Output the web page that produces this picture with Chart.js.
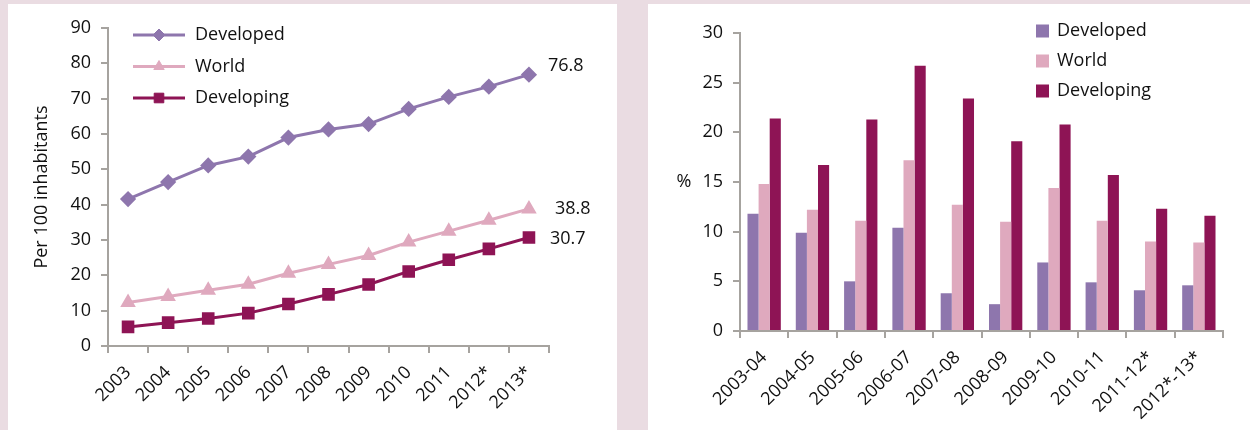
<!DOCTYPE html>
<html>
<head>
<meta charset="utf-8">
<script src="https://cdn.jsdelivr.net/npm/chart.js@4.4.0/dist/chart.umd.min.js"></script>
<style>
  body { margin: 0; width: 1250px; height: 430px; overflow: hidden; position: relative; background: #eadce2; }
  .panel { position: absolute; top: 4px; background: #fff; }
</style>
</head>
<body>
<div class="panel" style="left:8px;width:609px;height:426px"><canvas id="lineChart" width="609" height="426"></canvas></div>
<div class="panel" style="left:648px;width:602px;height:426px"><canvas id="barChart" width="602" height="426"></canvas></div>
<script>
// left chart: per 100 inhabitants
var years = ['2003', '2004', '2005', '2006', '2007', '2008', '2009', '2010', '2011', '2012*', '2013*'];
var developed = [41.6, 46.4, 51.1, 53.6, 59.0, 61.3, 62.8, 67.1, 70.5, 73.4, 76.8];
var world = [12.3, 14.0, 15.8, 17.5, 20.6, 23.1, 25.6, 29.4, 32.5, 35.6, 38.8];
var developing = [5.4, 6.6, 7.8, 9.3, 11.9, 14.6, 17.4, 21.1, 24.4, 27.5, 30.7];
var endLabels = ['76.8', '38.8', '30.7'];

// right chart: growth, %
var periods = ['2003-04', '2004-05', '2005-06', '2006-07', '2007-08', '2008-09', '2009-10', '2010-11', '2011-12*', '2012*-13*'];
var developedGrowth = [11.8, 9.9, 5.0, 10.4, 3.8, 2.7, 6.9, 4.9, 4.1, 4.6];
var worldGrowth = [14.8, 12.2, 11.1, 17.2, 12.7, 11.0, 14.4, 11.1, 9.0, 8.9];
var developingGrowth = [21.4, 16.7, 21.3, 26.7, 23.4, 19.1, 20.8, 15.7, 12.3, 11.6];

var PURPLE = '#8e76ad', PINK = '#dfa9be', PLUM = '#8e1455', AXIS = '#a6a39f';
var FONT = "18px 'Open Sans', sans-serif";

Chart.defaults.font.family = "'Open Sans', sans-serif";
Chart.defaults.font.size = 18;
Chart.defaults.color = '#111';

// legend drawn inside the plot area, like the original
var insideLegend = {
  id: 'insideLegend',
  afterDatasetsDraw: function (chart, args, opts) {
    var ctx = chart.ctx, area = chart.chartArea;
    ctx.save();
    ctx.font = FONT;
    ctx.textBaseline = 'middle';
    chart.data.datasets.forEach(function (ds, i) {
      var x = area.left + opts.dx, y = area.top + opts.dy + i * opts.gap, tx;
      if (opts.line) {
        ctx.strokeStyle = ds.borderColor;
        ctx.lineWidth = ds.borderWidth;
        ctx.beginPath(); ctx.moveTo(x, y); ctx.lineTo(x + 52, y); ctx.stroke();
        ctx.fillStyle = ds.pointBackgroundColor;
        ctx.strokeStyle = ds.pointBorderColor;
        ctx.lineWidth = 1;
        Chart.helpers.drawPoint(ctx, { pointStyle: ds.pointStyle, radius: ds.pointRadius, rotation: 0, borderWidth: 1 }, x + 26, y);
        tx = x + 62;
      } else {
        ctx.fillStyle = ds.backgroundColor;
        ctx.fillRect(x, y - 6.5, 13, 13);
        tx = x + 21;
      }
      ctx.fillStyle = '#111';
      ctx.fillText(ds.label, tx, y);
    });
    ctx.restore();
  }
};

var endValueLabels = {
  id: 'endValueLabels',
  afterDatasetsDraw: function (chart, args, opts) {
    var ctx = chart.ctx;
    ctx.save();
    ctx.font = FONT;
    ctx.fillStyle = '#111';
    ctx.textBaseline = 'middle';
    endLabels.forEach(function (txt, i) {
      var pts = chart.getDatasetMeta(i).data;
      var p = pts[pts.length - 1];
      ctx.fillText(txt, p.x + opts.offsets[i][0], p.y + opts.offsets[i][1]);
    });
    ctx.restore();
  }
};

var percentLabel = {
  id: 'percentLabel',
  afterDraw: function (chart) {
    var ctx = chart.ctx, y = chart.scales.y.getPixelForValue(15);
    ctx.save();
    ctx.font = FONT;
    ctx.fillStyle = '#111';
    ctx.textAlign = 'center';
    ctx.textBaseline = 'middle';
    ctx.fillText('%', 36, y);
    ctx.restore();
  }
};

function axisStyle(extra) {
  var o = {
    border: { color: AXIS, width: 2 },
    grid: { drawOnChartArea: false, color: AXIS, lineWidth: 2, tickLength: 7 },
    ticks: { color: '#111', padding: 10 }
  };
  for (var k in extra) o[k] = extra[k];
  return o;
}

var xLine = axisStyle({ offset: true, afterFit: function (s) { s.height = 84; } });
xLine.grid.offset = true;
xLine.ticks = { color: '#111', padding: 9, minRotation: 45, maxRotation: 45, autoSkip: false };

var yLine = axisStyle({ min: 0, max: 90, afterFit: function (s) { s.width = 100; } });
yLine.ticks.stepSize = 10;
yLine.title = { display: true, text: 'Per 100 inhabitants', color: '#111', padding: { top: 23, bottom: 0 } };

new Chart(document.getElementById('lineChart'), {
  type: 'line',
  data: {
    labels: years,
    datasets: [
      { label: 'Developed', data: developed, borderColor: PURPLE, backgroundColor: PURPLE, pointBackgroundColor: PURPLE, pointBorderColor: PURPLE, borderWidth: 3, pointStyle: 'rectRot', pointRadius: 6 },
      { label: 'World', data: world, borderColor: PINK, backgroundColor: PINK, pointBackgroundColor: PINK, pointBorderColor: PINK, borderWidth: 3, pointStyle: 'triangle', pointRadius: 6 },
      { label: 'Developing', data: developing, borderColor: PLUM, backgroundColor: PLUM, pointBackgroundColor: PLUM, pointBorderColor: PLUM, borderWidth: 3, pointStyle: 'rect', pointRadius: 6.8 }
    ]
  },
  options: {
    responsive: false,
    animation: false,
    layout: { padding: { top: 24, right: 68, left: 0, bottom: 0 } },
    plugins: {
      legend: { display: false },
      tooltip: { enabled: false },
      insideLegend: { line: true, dx: 25, dy: 7, gap: 31.5 },
      endValueLabels: { offsets: [[19, -9], [26, 0], [21, 1]] }
    },
    scales: { x: xLine, y: yLine }
  },
  plugins: [insideLegend, endValueLabels]
});

var xBar = axisStyle({ afterFit: function (s) { s.height = 99; } });
xBar.ticks = { color: '#111', padding: 9, minRotation: 45, maxRotation: 45, autoSkip: false };

var yBar = axisStyle({ min: 0, max: 30, afterFit: function (s) { s.width = 92; } });
yBar.ticks.stepSize = 5;

new Chart(document.getElementById('barChart'), {
  type: 'bar',
  data: {
    labels: periods,
    datasets: [
      { label: 'Developed', data: developedGrowth, backgroundColor: PURPLE },
      { label: 'World', data: worldGrowth, backgroundColor: PINK },
      { label: 'Developing', data: developingGrowth, backgroundColor: PLUM }
    ]
  },
  options: {
    responsive: false,
    animation: false,
    layout: { padding: { top: 29, right: 27, left: 0, bottom: 0 } },
    datasets: { bar: { categoryPercentage: 0.69, barPercentage: 1.0 } },
    plugins: {
      legend: { display: false },
      tooltip: { enabled: false },
      insideLegend: { line: false, dx: 296, dy: -2, gap: 30 }
    },
    scales: { x: xBar, y: yBar }
  },
  plugins: [insideLegend, percentLabel]
});
</script>
</body>
</html>
